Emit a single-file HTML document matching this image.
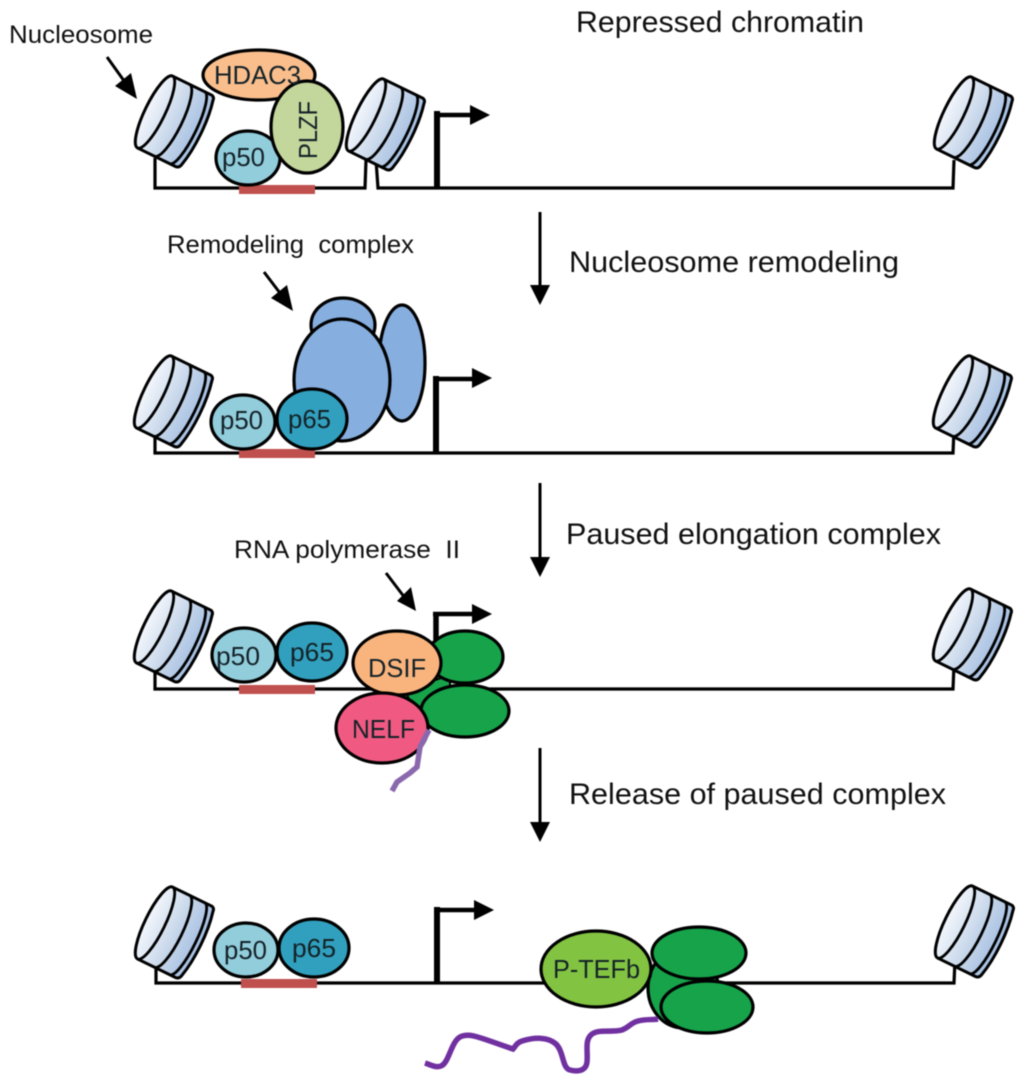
<!DOCTYPE html>
<html><head><meta charset="utf-8"><style>
html,body{margin:0;padding:0;background:#fff}
svg{display:block;filter:blur(.45px)}
text{font-family:"Liberation Sans",sans-serif;fill:#111}
.l{font-size:30px}.s{font-size:25px}.n{font-size:26px;fill:#142228}
.o{stroke:#000;stroke-width:3.2}
.dna{fill:none;stroke:#000;stroke-width:3.2}
</style></head><body>
<svg width="1024" height="1085" viewBox="0 0 1024 1085" xmlns="http://www.w3.org/2000/svg">
<defs>
<linearGradient id="g" x1="0" y1="0" x2="1" y2="0">
<stop offset="0" stop-color="#f4f7fc"/><stop offset=".55" stop-color="#c6d6ea"/><stop offset="1" stop-color="#a3bee2"/>
</linearGradient>
<g id="nuc" transform="translate(2,0) rotate(26)">
<path d="M0,-40 L44,-40 Q47,-39 47,-36 C52,-15 52,15 47,36 Q46,40 42,40 L0,40 A10,40 0 0 1 0,-40Z" fill="url(#g)" stroke="#000" stroke-width="3" stroke-linejoin="round"/>
<path d="M0,-40 A10,40 0 0 1 0,40 M19,-40 A10,40 0 0 1 19,40 M36,-40 A9,40 0 0 1 36,40" fill="none" stroke="#000" stroke-width="2.8"/>
</g>
<path id="head" d="M0,-10 L20,0 L0,10Z" fill="#000"/>
</defs>

<!-- Row 1 -->
<path class="dna" d="M155,158 L155,188 L365,188 L366,160 M376,160 L378,188 L953,188 L954,160"/>
<rect x="239" y="185" width="76" height="9" fill="#c0504d"/>
<use href="#nuc" x="153" y="112"/>
<use href="#nuc" x="364" y="115"/>
<use href="#nuc" x="952" y="113"/>
<ellipse class="o" cx="259" cy="75" rx="56" ry="25" fill="#f9be8c"/>
<ellipse class="o" cx="248" cy="158" rx="32" ry="27" fill="#92cddc"/>
<ellipse class="o" cx="307" cy="127" rx="36" ry="46" fill="#c3d69b"/>
<text class="n" x="214" y="84" textLength="87" lengthAdjust="spacingAndGlyphs">HDAC3</text>
<text class="n" x="222" y="166" textLength="43" lengthAdjust="spacingAndGlyphs">p50</text>
<text class="n" transform="translate(317,159) rotate(-90)" textLength="58" lengthAdjust="spacingAndGlyphs">PLZF</text>
<path d="M437,188 L437,111" stroke="#000" stroke-width="6" fill="none"/>
<path d="M434,115 L472,115" stroke="#000" stroke-width="4.5" fill="none"/>
<use href="#head" x="470" y="115"/>

<!-- Row 2 -->
<path class="dna" d="M155,430 L155,453 L953,453 L954,430"/>
<rect x="239" y="449" width="76" height="9" fill="#c0504d"/>
<use href="#nuc" x="152" y="392"/>
<use href="#nuc" x="951" y="392"/>
<ellipse class="o" cx="343" cy="325" rx="32" ry="27" fill="#86aedf"/>
<ellipse class="o" cx="402" cy="363" rx="23" ry="58" fill="#86aedf"/>
<ellipse class="o" cx="342" cy="380" rx="48" ry="61" fill="#86aedf"/>
<ellipse class="o" cx="243" cy="422" rx="32" ry="27" fill="#92cddc"/>
<ellipse class="o" cx="312" cy="419" rx="35" ry="30" fill="#31a0be"/>
<text class="n" x="220" y="429" textLength="43" lengthAdjust="spacingAndGlyphs">p50</text>
<text class="n" x="288" y="428" textLength="43" lengthAdjust="spacingAndGlyphs">p65</text>
<path d="M436,453 L436,376" stroke="#000" stroke-width="6" fill="none"/>
<path d="M433,379 L474,379" stroke="#000" stroke-width="4.5" fill="none"/>
<use href="#head" x="472" y="378"/>

<!-- Row 3 -->
<path class="dna" d="M155,665 L155,689 L953,689 L954,665"/>
<rect x="239" y="685" width="76" height="9" fill="#c0504d"/>
<use href="#nuc" x="152" y="627"/>
<use href="#nuc" x="951" y="625"/>
<ellipse class="o" cx="244" cy="655" rx="32" ry="27" fill="#92cddc"/>
<ellipse class="o" cx="312" cy="652" rx="35" ry="29" fill="#31a0be"/>
<text class="n" x="216" y="665" textLength="44" lengthAdjust="spacingAndGlyphs">p50</text>
<text class="n" x="290" y="661" textLength="44" lengthAdjust="spacingAndGlyphs">p65</text>
<path d="M436,640 L436,612" stroke="#000" stroke-width="5.5" fill="none"/>
<path d="M433,614 L474,614" stroke="#000" stroke-width="4.5" fill="none"/>
<use href="#head" x="472" y="614"/>
<path d="M405,690 L450,675 L450,700 L420,725Z" fill="#16a34a" stroke="#000" stroke-width="2"/>
<ellipse class="o" cx="465" cy="657" rx="38" ry="26" fill="#16a34a"/>
<ellipse class="o" cx="465" cy="711" rx="44" ry="26" fill="#16a34a"/>
<ellipse class="o" cx="397" cy="663" rx="44" ry="32" fill="#f9b47d"/>
<ellipse class="o" cx="382" cy="728" rx="46" ry="35" fill="#f05a82"/>
<text class="n" x="368" y="677" textLength="58" lengthAdjust="spacingAndGlyphs">DSIF</text>
<text class="n" x="352" y="738" textLength="63" lengthAdjust="spacingAndGlyphs">NELF</text>
<path d="M429,730 L420,747 L417,767 L410,773 L397,782 L392,791" fill="none" stroke="#8a68ae" stroke-width="5.5"/>

<!-- Row 4 -->
<path class="dna" d="M156,960 L156,983 L954,983 L955,960"/>
<rect x="241" y="979" width="76" height="9" fill="#c0504d"/>
<use href="#nuc" x="153" y="923"/>
<use href="#nuc" x="953" y="922"/>
<ellipse class="o" cx="246" cy="950" rx="32" ry="27" fill="#92cddc"/>
<ellipse class="o" cx="314" cy="948" rx="35" ry="29" fill="#31a0be"/>
<text class="n" x="224" y="959" textLength="43" lengthAdjust="spacingAndGlyphs">p50</text>
<text class="n" x="292" y="957" textLength="44" lengthAdjust="spacingAndGlyphs">p65</text>
<path d="M437,983 L437,907" stroke="#000" stroke-width="6" fill="none"/>
<path d="M434,910 L476,910" stroke="#000" stroke-width="4.5" fill="none"/>
<use href="#head" x="474" y="910"/>
<ellipse class="o" cx="683" cy="988" rx="35" ry="40" fill="#16a34a"/>
<ellipse class="o" cx="699" cy="953" rx="47" ry="26" fill="#16a34a"/>
<ellipse class="o" cx="707" cy="1007" rx="46" ry="26" fill="#16a34a"/>
<ellipse class="o" cx="596" cy="969" rx="55" ry="38" fill="#82c341"/>
<text class="n" x="553" y="978" textLength="87" lengthAdjust="spacingAndGlyphs">P-TEFb</text>
<path d="M425,1063 C431,1065 436,1068 441,1066 C449,1063 451,1042 460,1037 C470,1032 480,1038 513,1049 C516,1046 516,1043 522,1041 C535,1037 548,1037 556,1044 C564,1052 562,1068 570,1070 C578,1072 586,1071 587,1062 C588,1052 585,1042 590,1036 C596,1028 612,1033 622,1030 C630,1027 630,1023 638,1021 C645,1019 652,1020 658,1019" fill="none" stroke="#7030a0" stroke-width="5.5"/>

<!-- Process arrows -->
<path d="M540,212 L540,288" stroke="#000" stroke-width="3"/><use href="#head" transform="translate(540,285) rotate(90)"/>
<path d="M540,483 L540,560" stroke="#000" stroke-width="3"/><use href="#head" transform="translate(540,557) rotate(90)"/>
<path d="M540,748 L540,825" stroke="#000" stroke-width="3"/><use href="#head" transform="translate(540,822) rotate(90)"/>

<!-- Pointer arrows -->
<path d="M107,57 L127,85" stroke="#000" stroke-width="3"/><path d="M137,99 L115,86 L131,73Z" fill="#000"/>
<path d="M264,272 L283,297" stroke="#000" stroke-width="3"/><path d="M293,311 L271,298 L287,285Z" fill="#000"/>
<path d="M386,573 L405,598" stroke="#000" stroke-width="3"/><path d="M416,611 L397,601 L411,587Z" fill="#000"/>

<!-- Labels -->
<text class="s" x="9" y="43" textLength="144" lengthAdjust="spacingAndGlyphs">Nucleosome</text>
<text class="l" x="576" y="32" textLength="288" lengthAdjust="spacingAndGlyphs">Repressed chromatin</text>
<text class="s" x="167" y="253" textLength="247" lengthAdjust="spacingAndGlyphs" xml:space="preserve">Remodeling  complex</text>
<text class="l" x="569" y="272" textLength="330" lengthAdjust="spacingAndGlyphs">Nucleosome remodeling</text>
<text class="l" x="566" y="544" textLength="375" lengthAdjust="spacingAndGlyphs">Paused elongation complex</text>
<text class="s" x="234" y="558" textLength="226" lengthAdjust="spacingAndGlyphs" xml:space="preserve">RNA polymerase  II</text>
<text class="l" x="569" y="804" textLength="377" lengthAdjust="spacingAndGlyphs">Release of paused complex</text>
</svg>
</body></html>
